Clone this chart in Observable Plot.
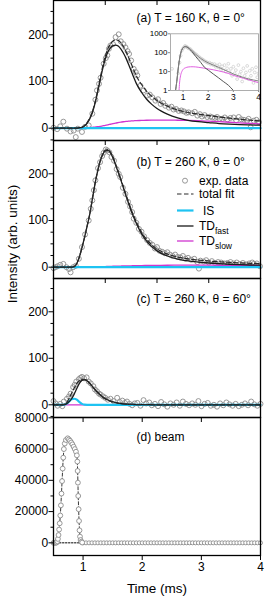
<!DOCTYPE html>
<html><head><meta charset="utf-8">
<script src="https://cdn.jsdelivr.net/npm/d3@7"></script>
<script src="https://cdn.jsdelivr.net/npm/@observablehq/plot@0.6"></script>
<style>
html,body{margin:0;padding:0;background:white;}
#wrap{position:relative;width:265px;height:598px;overflow:hidden;background:white;}
#wrap svg{position:absolute;overflow:visible;}
</style></head><body><div id="wrap"></div>
<script>
// ---------- data ----------
const T = [0,0.1,0.15,0.2,0.25,0.3,0.35,0.4,0.45,0.5,0.55,0.6,0.65,0.7,0.75,0.8,0.85,0.9,0.95,1.0,1.05,1.1,1.15,1.2,1.25,1.3,1.35,1.4,1.45,1.5,1.55,1.6,1.7,1.8,1.9,2.0,2.2,2.4,2.6,2.8,3.0,3.2,3.4,3.6,3.8,4.0];

// panel (a) T = 160 K, theta = 0
const fastA  = [0,0,0,0,0,0,0,0,0,1,2,5,11,20,33,52,76,102,127,148,163,172,177,178,176,170,161,150,137,123,109,96,77,62,51,42,30,22,17,14,12,10,8.6,7.6,7,6.5];
const slowA  = [0,0,0,0,0,0,0,0,0,0,0.2,0.5,1,1.5,2,2.5,3.2,4,5,6,7.2,8.5,9.8,11,12,13,13.8,14.5,15,15.5,15.9,16.3,16.6,17,17.2,17.3,17.3,17,16.6,16,15,14,12.8,11.5,10.2,9];
const totalA = [0,0,0,0,0,0,0,0,0,1,2.2,5.5,12,21.5,35,54.5,79.2,106,132,154,170.2,180.5,186.8,189,188,183,174.8,164.5,152,138.5,124.9,112.3,93.6,79,68.2,59.3,47.3,39,33.6,30,27,24,21.4,19.1,17.2,15.5];
const isA    = [0,0,0,0,0,0,0,0,0,0,0,0,0,0,0,0,0,0,0,0,0,0,0,0,0,0,0,0,0,0,0,0,0,0,0,0,0,0,0,0,0,0,0,0,0,0];
const expAt = [0.00,0.07,0.13,0.19,0.26,0.33,0.39,0.43,0.47,0.55,0.61,0.68,0.75,0.81,0.84,0.88,0.91,0.97,1.01,1.04,1.07,1.10,1.15,1.20,1.26,1.30,1.35,1.39,1.43,1.46,1.50,1.55,1.59,1.62,1.68,1.74,1.81,1.86,1.91,1.97,2.02,2.07,2.12,2.16,2.23,2.28,2.32,2.37,2.42,2.47,2.52,2.57,2.61,2.68,2.73,2.78,2.83,2.87,2.92,2.97,3.03,3.07,3.12,3.16,3.21,3.26,3.31,3.36,3.42,3.48,3.53,3.58,3.63,3.68,3.74,3.77,3.81,3.87,3.92,3.97];
const expAv = [1,-2,4,14,-1,-7,-5,-19,-1,-8,3,6,31,61,81,95,108,138,150,156,170,177,180,195,201,186,180,173,165,159,145,127,120,113,91,81,70,72,66,59,62,52,54,48,44,46,40,41,37,38,36,33,34,32,35,27,30,25,28,24,25,23,22,24,20,20,23,19,22,23,17,24,19,18,16,20,2,16,18,13];

// inset of (a), log scale
const inFastT = [0.70,0.75,0.80,0.85,0.90,0.95,1.00,1.05,1.10,1.15,1.20,1.30,1.40,1.50,1.60,1.70,1.85,2.00,2.20,2.40,2.60,2.80,3.00];
const inFastV = [1,3,12,38,85,140,180,205,210,200,180,138,95,63,44,31,17,12,7.5,4.8,3,1.9,1];
const inTotT = [0.70,0.75,0.80,0.85,0.90,0.95,1.00,1.05,1.10,1.15,1.20,1.30,1.40,1.50,1.60,1.70,1.85,2.00,2.20,2.40,2.60,2.80,3.00,3.20,3.40,3.60,3.80,4.00];
const inTotV = [1,3,12,39,87,143,185,210,215,207,190,152,112,83,64,50,37,29,22,17,13,10,7.5,6,4.9,4.1,3.6,3.2];
const inSlowT = [0.84,0.86,0.90,0.95,1.00,1.10,1.20,1.30,1.40,1.60,1.80,2.00,2.20,2.40,2.60,2.80,3.00,3.20,3.40,3.60,3.80,4.00];
const inSlowV = [1,2.5,6,10,13,16,17.5,18,18,17,15.5,14,12.5,11,9.5,8,6.3,5.3,4.4,3.7,3.1,2.6];
const inExpT = [0.56,0.80,0.86,0.90,0.95,1.00,1.05,1.08,1.12,1.16,1.20,1.25,1.30,1.35,1.40,1.45,1.50,1.55,1.60,1.65,1.70,1.75,1.80,1.85,1.90,1.95,2.00,2.05,2.10,2.15,2.20,2.25,2.30,2.35,2.40,2.45,2.50,2.55,2.60,2.65,2.70,2.75,2.80,2.85,2.90,2.95,3.00,3.05,3.10,3.15,3.20,3.25,3.30,3.35,3.40,3.45,3.50,3.55,3.60,3.65,3.70,3.75,3.80,3.85,3.90,3.95,4.00];
const inExpV = [14,8,30,70,130,170,200,230,210,200,175,165,150,125,110,95,85,75,62,58,50,46,42,36,34,31,28,30,24,26,22,25,18,21,17,24,14,19,12,22,10,15,26,9,14,6,18,8,12,4,22,7,10,3,15,6,9,20,4,11,6,14,2.5,9,17,5,8];

// panel (b) T = 260 K, theta = 0
const fastB  = [0,0,0,0,0,0,0,1,8,22,42,64,88,113,145,177,204,226,241,249,250,245,234,219,203,187,170,153,137,121,107,94,72,56,44,35,24,17.5,13.5,11,9,7.5,6.3,5.4,4.7,4.2];
const slowB  = [0,0,0,0,0,0,0,0,0,0,0,0,0.2,0.4,0.6,0.8,0.9,1,1.2,1.4,1.6,1.8,2,2.2,2.4,2.5,2.6,2.8,2.9,3,3.1,3.2,3.5,3.7,3.9,4,4.2,4.3,4.4,4.4,4.3,4.2,4,3.9,3.7,3.5];
const totalB = [0,0,0,0,0,0,0,1,8,22,42,64,88.2,113.4,145.6,177.8,204.9,227,242.2,250.4,251.6,246.8,236,221.2,205.4,189.5,172.6,155.8,139.9,124,110.1,97.2,75.5,59.7,47.9,39,28.2,21.8,17.9,15.4,13.3,11.7,10.3,9.3,8.4,7.7];
const isB    = [0,0,0,0,0,0,0,0,0,0,0,0,0,0,0,0,0,0,0,0,0,0,0,0,0,0,0,0,0,0,0,0,0,0,0,0,0,0,0,0,0,0,0,0,0,0];
const expBt = [0.00,0.04,0.08,0.13,0.19,0.25,0.30,0.33,0.38,0.43,0.49,0.55,0.61,0.68,0.72,0.75,0.78,0.81,0.86,0.90,0.94,0.97,1.01,1.04,1.08,1.12,1.17,1.22,1.26,1.29,1.34,1.39,1.44,1.48,1.52,1.55,1.60,1.65,1.70,1.75,1.81,1.86,1.91,1.96,2.00,2.05,2.10,2.15,2.20,2.25,2.30,2.35,2.40,2.45,2.50,2.55,2.60,2.66,2.72,2.78,2.81,2.84,2.90,2.95,3.00,3.06,3.12,3.18,3.24,3.30,3.36,3.42,3.48,3.54,3.60,3.66,3.72,3.78,3.84,3.87,3.93,3.99];
const expBv = [-2,0,2,5,7,0,-4,-11,0,3,18,43,70,100,125,143,165,186,212,225,238,245,252,250,246,236,228,210,200,193,170,157,140,130,118,104,95,82,76,66,58,52,48,40,43,35,33,30,32,27,24,27,22,21,24,18,20,16,18,11,-3,14,12,15,10,13,9,11,10,8,9,11,8,10,7,9,6,8,10,7,8,2];

// panel (c) T = 260 K, theta = 60
const fastC  = [0,0,0,0.5,2,6.5,13,23,35,46,52.5,54,51.5,46,39.5,33,27,21.5,17,13.3,10.3,8,6.2,4.8,3.7,2.8,2.1,1.6,1.2,0.9,0.7,0.5,0.3,0.2,0.1,0,0,0,0,0,0,0,0,0,0,0];
const isC    = [0,0,0,0,2,7,12,13,11,6,2,0.3,0,0,0,0,0,0,0,0,0,0,0,0,0,0,0,0,0,0,0,0,0,0,0,0,0,0,0,0,0,0,0,0,0,0];
const slowC  = [0,0,0,0,0,0,0,0,0,0,0,0,0,0,0,0,0,0,0,0,0,0,0,0,0,0,0,0,0,0,0,0,0,0,0,0,0,0,0,0,0,0,0,0,0,0];
const totalC = [0,0,0,0.5,4,13.5,25,36,46,52,54.5,54.3,51.5,46,39.5,33,27,21.5,17,13.3,10.3,8,6.2,4.8,3.7,2.8,2.1,1.6,1.2,0.9,0.7,0.5,0.3,0.2,0.1,0,0,0,0,0,0,0,0,0,0,0];
const expCt = [0.00,0.04,0.08,0.13,0.17,0.20,0.26,0.30,0.33,0.38,0.41,0.44,0.49,0.52,0.55,0.59,0.64,0.68,0.72,0.77,0.80,0.84,0.88,0.91,0.96,1.00,1.05,1.10,1.16,1.23,1.28,1.33,1.38,1.42,1.47,1.52,1.57,1.62,1.68,1.74,1.79,1.85,1.90,1.96,2.02,2.08,2.14,2.20,2.26,2.32,2.38,2.44,2.50,2.56,2.62,2.68,2.74,2.80,2.86,2.92,2.98,3.04,3.10,3.16,3.22,3.28,3.34,3.40,3.46,3.52,3.58,3.64,3.70,3.76,3.82,3.88,3.94,4.00];
const expCv = [8,3,-2,2,-3,7,13,18,24,38,43,50,55,58,60,57,59,50,46,40,33,29,24,22,18,15,11,13,8,15,6,9,4,7,2,-1,3,4,-2,10,3,5,-1,2,-3,6,1,-4,3,0,5,-2,7,2,-1,3,0,8,-3,2,4,-2,0,-4,3,-1,5,1,-2,2,-3,0,3,-1,7,1,-2,2];

// panel (d) beam
const beamT = [0.50,0.52,0.54,0.555,0.565,0.575,0.585,0.595,0.605,0.615,0.625,0.635,0.645,0.655,0.665,0.675,0.69,0.71,0.74,0.76,0.78,0.80,0.82,0.84,0.86,0.88,0.895,0.903,0.908,0.913,0.918,0.925,0.932,0.94,0.948,0.958,0.97,0.985];
const beamV = [0,0,0,300,1000,2500,5000,8500,12500,17500,24000,31500,39500,47500,54500,60000,63500,65800,66900,66200,65300,64200,63000,61500,60000,58300,56000,52000,46000,38500,30000,21500,14000,8000,4000,1800,700,200];
const beamTailT = [1.00,1.05,1.10,1.15,1.20,1.25,1.30,1.35,1.40,1.45,1.50,1.55,1.60,1.65,1.70,1.75,1.80,1.85,1.90,1.95,2.00,2.05,2.10,2.15,2.20,2.25,2.30,2.35,2.40,2.45,2.50,2.55,2.60,2.65,2.70,2.75,2.80,2.85,2.90,2.95,3.00,3.05,3.10,3.15,3.20,3.25,3.30,3.35,3.40,3.45,3.50,3.55,3.60,3.65,3.70,3.75,3.80,3.85,3.90,3.95,4.00];
const beamTailV = [0,0,0,0,0,0,0,0,0,0,0,0,0,0,0,0,0,0,0,0,0,0,0,0,0,0,0,0,0,0,0,0,0,0,0,0,0,0,0,0,0,0,0,0,0,0,0,0,0,0,0,0,0,0,0,0,0,0,0,0,0];
const beamBaseT = [0.50,0.98];
const beamBaseV = [0,0];

// tick labels
const yMajorI = [0,100,200];
const yMinorI = [-25,25,50,75,125,150,175,225,250];
const yMajorD = [0,20000,40000,60000,80000];
const yMinorD = [10000,30000,50000,70000];
const xTicksABC = [1,2,3];
const xTicksD = [1,2,3,4];
const inYTicks = [1,10,100,1000];
const inXTicks = [1,2,3,4];

// ---------- drawing ----------
const FONT = "'Liberation Sans', Arial, Helvetica, sans-serif";
const C_EXP = "#8c8c8c", C_TOT = "#2a2a2a", C_FAST = "#1a1a1a", C_IS = "#1ec3f2", C_SLOW = "#cf35cf";
const W = 265, ML = 53, MR = 5;
const wrap = document.getElementById("wrap");
const rows = (ts, vs) => ts.map((t, i) => ({t, v: vs[i]}));

function panel({top, height, mb = 0, xd, yd, yMajor, yMinor, xTicks, marks, label, labelDy, extra = []}) {
  const inner = height - mb;
  const svg = Plot.plot({
    width: W, height, marginLeft: ML, marginRight: MR, marginTop: 0, marginBottom: mb,
    style: {overflow: "visible", background: "transparent", fontFamily: FONT, fontSize: "12px", color: "black"},
    x: {domain: xd, axis: null},
    y: {domain: yd, axis: null},
    marks: [
      ...marks,
      Plot.ruleX(xTicks, {insetBottom: inner - 5, stroke: "black", strokeWidth: 1}),
      Plot.axisY({ticks: yMinor, tickSize: 2.5, tickFormat: () => "", label: null}),
      Plot.axisY({ticks: yMajor, tickSize: 4.5, tickPadding: 0.8, tickFormat: d => String(d), label: null, fontSize: 12}),
      Plot.text([label], {text: d => d, frameAnchor: "top-left", dx: 83, dy: labelDy, textAnchor: "start", lineAnchor: "middle", fontSize: 12}),
      ...extra,
      Plot.frame({stroke: "black", strokeWidth: 1.3})
    ]
  });
  svg.style.top = top + "px";
  svg.style.left = "0px";
  wrap.appendChild(svg);
  return svg;
}

function fitMarks(fast, slow, is, total, et, ev) {
  return [
    Plot.dot(rows(et, ev), {x: "t", y: "v", r: 2.5, stroke: C_EXP, fill: "none", strokeWidth: 0.9}),
    Plot.line(rows(T, slow), {x: "t", y: "v", stroke: C_SLOW, strokeWidth: 1.3, curve: "monotone-x"}),
    Plot.line(rows(T, is), {x: "t", y: "v", stroke: C_IS, strokeWidth: 2.2, curve: "monotone-x"}),
    Plot.line(rows(T, fast), {x: "t", y: "v", stroke: C_FAST, strokeWidth: 1.3, curve: "monotone-x"}),
    Plot.line(rows(T, total), {x: "t", y: "v", stroke: C_TOT, strokeWidth: 1.2, strokeDasharray: "4.5,2.5", curve: "monotone-x"})
  ];
}

panel({top: 0, height: 140, xd: [0, 4], yd: [-26.3, 273.4], yMajor: yMajorI, yMinor: yMinorI, xTicks: xTicksABC,
  marks: fitMarks(fastA, slowA, isA, totalA, expAt, expAv), label: "(a) T = 160 K, θ = 0°", labelDy: 17.5});

const svgB = panel({top: 140, height: 138, xd: [0, 4], yd: [-24.2, 271.3], yMajor: yMajorI, yMinor: yMinorI.filter(d => d > 0), xTicks: xTicksABC,
  marks: fitMarks(fastB, slowB, isB, totalB, expBt, expBv), label: "(b) T = 260 K, θ = 0°", labelDy: 21.7});

panel({top: 278, height: 139, xd: [0, 4], yd: [-27.3, 271.6], yMajor: yMajorI, yMinor: yMinorI, xTicks: xTicksABC,
  marks: fitMarks(fastC, slowC, isC, totalC, expCt, expCv), label: "(c) T = 260 K, θ = 60°", labelDy: 20.3});

panel({top: 417, height: 181, mb: 43, xd: [0.5, 4], yd: [-8100, 80200], yMajor: yMajorD, yMinor: yMinorD, xTicks: xTicksD.slice(0, 3),
  marks: [
    Plot.line(rows(beamBaseT, beamBaseV), {x: "t", y: "v", stroke: "black", strokeWidth: 1, strokeDasharray: "1.5,1.5"}),
    Plot.line(rows(beamT.concat(beamTailT), beamV.concat(beamTailV)), {x: "t", y: "v", stroke: "#222", strokeWidth: 0.9, strokeDasharray: "3,2"}),
    Plot.dot(rows(beamTailT, beamTailV), {x: "t", y: "v", r: 2, stroke: C_EXP, fill: "white", strokeWidth: 0.9}),
    Plot.dot(rows(beamT, beamV), {x: "t", y: "v", r: 2.4, stroke: C_EXP, fill: "white", strokeWidth: 0.9})
  ],
  label: "(d) beam", labelDy: 19.7,
  extra: [
    Plot.axisX({ticks: xTicksD, tickSize: 5, tickPadding: 2, tickFormat: d => String(d), label: null, fontSize: 12}),
    Plot.text(["Time (ms)"], {text: d => d, frameAnchor: "bottom", dy: 33, lineAnchor: "middle", fontSize: 13.5})
  ]});

// inset in panel (a)
const inset = Plot.plot({
  width: 112, height: 78, marginLeft: 20, marginRight: 4, marginTop: 5.3, marginBottom: 16,
  style: {overflow: "visible", background: "transparent", fontFamily: FONT, fontSize: "8px", color: "black"},
  x: {domain: [0.5, 4], axis: null},
  y: {type: "log", domain: [1, 1000], axis: null},
  marks: [
    Plot.frame({fill: "white", stroke: "none"}),
    Plot.dot(rows(inExpT, inExpV), {x: "t", y: "v", r: 1.4, stroke: "#cacaca", fill: "none", strokeWidth: 0.7, clip: true}),
    Plot.line(rows(inSlowT, inSlowV), {x: "t", y: "v", stroke: "#e060e0", strokeWidth: 1, curve: "monotone-x", clip: true}),
    Plot.line(rows(inFastT, inFastV), {x: "t", y: "v", stroke: "#555", strokeWidth: 1, curve: "monotone-x", clip: true}),
    Plot.line(rows(inTotT, inTotV), {x: "t", y: "v", stroke: "#808080", strokeWidth: 1, curve: "monotone-x", clip: true}),
    Plot.axisY({ticks: inYTicks, tickSize: 2, tickPadding: 1, tickFormat: d => String(d), label: null, fontSize: 8, stroke: "#888"}),
    Plot.axisX({ticks: inXTicks, tickSize: 2, tickPadding: 1.5, tickFormat: d => String(d), label: null, fontSize: 8.5, stroke: "#888"}),
    Plot.frame({stroke: "#9a9a9a", strokeWidth: 0.8})
  ]
});
inset.style.left = "150px";
inset.style.top = "28px";
wrap.appendChild(inset);

// legend in panel (b)
const g = d3.select(svgB).append("g").attr("font-family", FONT).attr("font-size", 12)
  .attr("fill", "black").attr("text-anchor", "start");
g.append("circle").attr("cx", 185).attr("cy", 40.7).attr("r", 2.5).attr("fill", "none").attr("stroke", C_EXP).attr("stroke-width", 0.9);
g.append("text").attr("x", 199).attr("y", 44.9).attr("text-anchor", "start").text("exp. data");
const items = [
  {y: 54, stroke: C_TOT, w: 1.2, dash: "4.5,2.5", text: "total fit"},
  {y: 70.5, stroke: C_IS, w: 2.2, text: "IS", x: 203},
  {y: 86, stroke: C_FAST, w: 1.3, text: "TD", sub: "fast"},
  {y: 101, stroke: C_SLOW, w: 1.3, text: "TD", sub: "slow"}
];
for (const it of items) {
  g.append("line").attr("x1", 177).attr("x2", 193.5).attr("y1", it.y).attr("y2", it.y)
    .attr("stroke", it.stroke).attr("stroke-width", it.w).attr("stroke-dasharray", it.dash || null);
  const t = g.append("text").attr("x", it.x || 199).attr("y", it.y + 4.2).attr("text-anchor", "start").text(it.text);
  if (it.sub) t.append("tspan").attr("font-size", 8.5).attr("dy", 3.5).text(it.sub);
}

// y-axis title
const yl = d3.select(wrap).append("svg").attr("width", 30).attr("height", 598).style("left", "0px").style("top", "0px");
yl.append("text").attr("transform", "translate(17,244) rotate(-90)").attr("text-anchor", "middle")
  .attr("font-family", FONT).attr("font-size", 13.5).text("Intensity (arb. units)");
</script>
</body></html>
